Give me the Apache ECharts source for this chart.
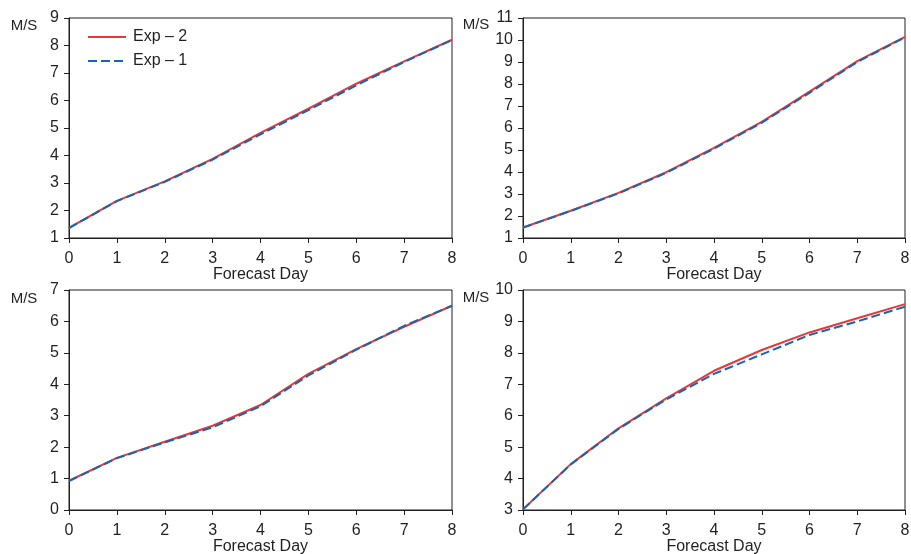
<!DOCTYPE html>
<html>
<head>
<meta charset="utf-8">
<script src="https://cdn.jsdelivr.net/npm/echarts@6/dist/echarts.min.js"></script>
<style>
html,body{margin:0;padding:0;background:#fff;}
#main{width:911px;height:554px;}
</style>
</head>
<body>
<div id="main"></div>
<script>
// ---- data ----
const days = [0, 1, 2, 3, 4, 5, 6, 7, 8];
const seriesNames = ['Exp – 2', 'Exp – 1'];
const xAxisName = 'Forecast Day';
const yUnit = 'M/S';

// panel 1 (top-left)
const p1Exp2 = [1.37, 2.35, 3.06, 3.88, 4.82, 5.70, 6.61, 7.42, 8.21];
const p1Exp1 = [1.36, 2.34, 3.04, 3.85, 4.77, 5.65, 6.55, 7.40, 8.20];
// panel 2 (top-right)
const p2Exp2 = [1.48, 2.24, 3.05, 3.99, 5.10, 6.28, 7.65, 9.04, 10.14];
const p2Exp1 = [1.47, 2.23, 3.03, 3.96, 5.06, 6.24, 7.60, 9.00, 10.12];
// panel 3 (bottom-left)
const p3Exp2 = [0.93, 1.66, 2.17, 2.68, 3.34, 4.33, 5.12, 5.83, 6.50];
const p3Exp1 = [0.92, 1.65, 2.15, 2.63, 3.30, 4.28, 5.10, 5.86, 6.50];
// panel 4 (bottom-right)
const p4Exp2 = [3.02, 4.46, 5.60, 6.55, 7.43, 8.09, 8.65, 9.10, 9.55];
const p4Exp1 = [3.02, 4.45, 5.58, 6.52, 7.33, 7.95, 8.57, 9.00, 9.47];

// y axis ranges per panel
const yMins = [1, 1, 0, 3];
const yMaxs = [9, 11, 7, 10];

// ---- chart ----
const FONT = '"Liberation Sans", Arial, Helvetica, sans-serif';
const INK = '#231f20';
const RED = '#e8373a';
const BLUE = '#1565b0';

const grids = [
  {left: 69, right: 459, top: 18, height: 220},
  {left: 523, right: 6, top: 18, height: 220},
  {left: 69, right: 459, top: 290, height: 220},
  {left: 523, right: 6, top: 290, height: 220}
].map(g => Object.assign(g, {show: true, borderColor: INK, borderWidth: 1, containLabel: false, outerBoundsMode: 'none'}));

const xAxes = grids.map((g, i) => ({
  type: 'value', gridIndex: i, min: 0, max: 8, interval: 1,
  name: xAxisName, nameLocation: 'middle', nameGap: 29, nameMoveOverlap: false,
  nameTextStyle: {color: INK, fontSize: 16, fontFamily: FONT},
  axisLine: {show: true, lineStyle: {color: INK, width: 1}},
  axisTick: {show: true, length: 5, lineStyle: {color: INK, width: 1}},
  axisLabel: {color: INK, fontSize: 16, fontFamily: FONT, margin: 13},
  splitLine: {show: false}
}));

const yAxes = grids.map((g, i) => ({
  type: 'value', gridIndex: i, min: yMins[i], max: yMaxs[i], interval: 1,
  axisLine: {show: true, lineStyle: {color: INK, width: 1}},
  axisTick: {show: true, length: 5, lineStyle: {color: INK, width: 1}},
  axisLabel: {color: INK, fontSize: 16, fontFamily: FONT, margin: 10},
  splitLine: {show: false}
}));

const panels = [[p1Exp2, p1Exp1], [p2Exp2, p2Exp1], [p3Exp2, p3Exp1], [p4Exp2, p4Exp1]];
const series = [];
panels.forEach((pair, i) => {
  series.push({
    name: seriesNames[0], type: 'line', xAxisIndex: i, yAxisIndex: i,
    data: days.map((d, k) => [d, pair[0][k]]),
    showSymbol: false, symbol: 'none', silent: true, animation: false,
    lineStyle: {color: RED, width: 2, type: 'solid'}, itemStyle: {color: RED}
  });
  series.push({
    name: seriesNames[1], type: 'line', xAxisIndex: i, yAxisIndex: i,
    data: days.map((d, k) => [d, pair[1][k]]),
    showSymbol: false, symbol: 'none', silent: true, animation: false,
    lineStyle: {color: BLUE, width: 2, type: [9, 4]}, itemStyle: {color: BLUE}
  });
});

const unitPos = [[24, 26], [476, 25], [24, 299], [476, 298]];
const graphics = unitPos.map(p => ({
  type: 'text', x: p[0], y: p[1],
  style: {text: yUnit, fill: INK, font: '15px ' + FONT, align: 'center', verticalAlign: 'middle'}
}));

const chart = echarts.init(document.getElementById('main'), null, {renderer: 'canvas'});
chart.setOption({
  animation: false,
  backgroundColor: '#fff',
  grid: grids,
  xAxis: xAxes,
  yAxis: yAxes,
  legend: {
    data: seriesNames, orient: 'vertical', left: 82, top: 24,
    itemWidth: 38, itemHeight: 14, itemGap: 8,
    itemStyle: {opacity: 0},
    textStyle: {color: INK, fontSize: 16, fontFamily: FONT, padding: [0, 0, 0, 2]}
  },
  graphic: graphics,
  series: series
});
</script>
</body>
</html>
